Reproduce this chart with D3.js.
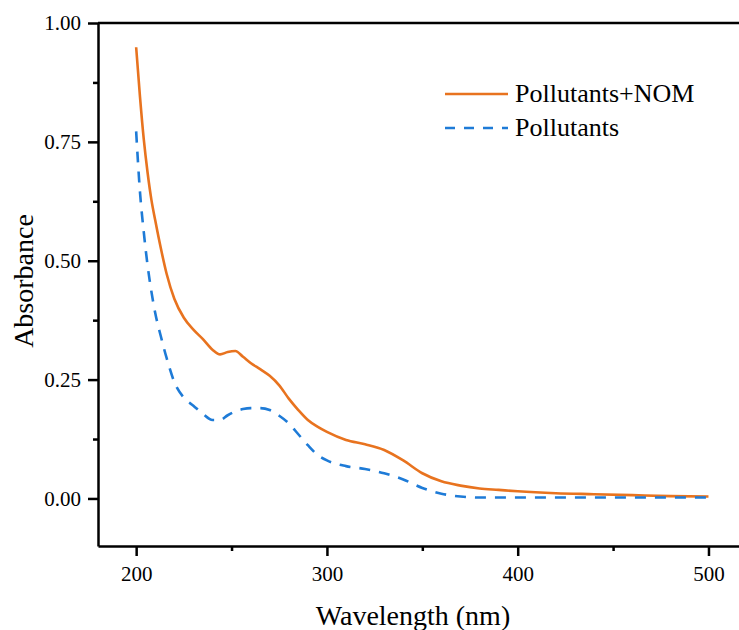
<!DOCTYPE html>
<html>
<head>
<meta charset="utf-8">
<script src="https://cdn.jsdelivr.net/npm/d3@7/dist/d3.min.js"></script>
<style>
  html, body { margin: 0; padding: 0; background: #fff; }
  svg { display: block; }
</style>
</head>
<body>
<script>
// wavelengths (nm) at which the curves were read
const wavelength = [200, 202, 204, 206, 208, 210, 213, 216, 220, 225, 230, 235, 240, 244, 248, 252, 256, 260, 265, 270, 275, 280, 285, 290, 295, 300, 310, 320, 330, 340, 350, 360, 370, 380, 390, 400, 420, 440, 460, 480, 500];
const pollutantsNOM = [0.949, 0.845, 0.755, 0.685, 0.628, 0.585, 0.525, 0.472, 0.42, 0.38, 0.355, 0.335, 0.313, 0.303, 0.308, 0.31, 0.298, 0.285, 0.272, 0.258, 0.238, 0.21, 0.186, 0.165, 0.151, 0.14, 0.123, 0.114, 0.102, 0.08, 0.053, 0.036, 0.027, 0.021, 0.018, 0.015, 0.011, 0.009, 0.007, 0.005, 0.004];
const pollutants = [0.772, 0.645, 0.56, 0.49, 0.435, 0.39, 0.34, 0.295, 0.245, 0.212, 0.195, 0.178, 0.165, 0.165, 0.175, 0.183, 0.188, 0.19, 0.19, 0.186, 0.174, 0.158, 0.135, 0.112, 0.092, 0.08, 0.068, 0.062, 0.053, 0.04, 0.022, 0.01, 0.004, 0.002, 0.002, 0.002, 0.002, 0.002, 0.002, 0.002, 0.002];
const seriesNames = ["Pollutants+NOM", "Pollutants"];
const xTicks = [200, 300, 400, 500];
const xMinorTicks = [250, 350, 450];
const yTicks = [0, 0.25, 0.5, 0.75, 1.0];
const yMinorTicks = [0.125, 0.375, 0.625, 0.875];

const width = 739, height = 630;
const margin = { top: 23, right: 0, bottom: 84, left: 98 };
const colors = ["#E8731F", "#1E7BD7"];
const serif = "Liberation Serif, Times New Roman, serif";

const svg = d3.select("body").append("svg")
  .attr("width", width)
  .attr("height", height)
  .attr("font-family", serif);

const x = d3.scaleLinear().domain([180, 516]).range([margin.left, width - margin.right]);
const y = d3.scaleLinear().domain([-0.1, 1.0]).range([height - margin.bottom, margin.top]);

// minor ticks first, majors on top
svg.append("g")
  .attr("transform", `translate(0,${height - margin.bottom})`)
  .call(d3.axisBottom(x).tickValues(xMinorTicks).tickSize(5).tickSizeOuter(0).tickFormat(""))
  .call(g => g.select(".domain").remove())
  .selectAll("line").attr("stroke", "#000").attr("stroke-width", 2.5);

svg.append("g")
  .attr("transform", `translate(${margin.left},0)`)
  .call(d3.axisLeft(y).tickValues(yMinorTicks).tickSize(5).tickSizeOuter(0).tickFormat(""))
  .call(g => g.select(".domain").remove())
  .selectAll("line").attr("stroke", "#000").attr("stroke-width", 2.5);

const xAxis = svg.append("g")
  .attr("transform", `translate(0,${height - margin.bottom})`)
  .call(d3.axisBottom(x).tickValues(xTicks).tickSize(10).tickSizeOuter(0).tickPadding(10).tickFormat(d3.format("d")));

const yAxis = svg.append("g")
  .attr("transform", `translate(${margin.left},0)`)
  .call(d3.axisLeft(y).tickValues(yTicks).tickSize(10).tickSizeOuter(0).tickPadding(7).tickFormat(d3.format(".2f")));

[xAxis, yAxis].forEach(ax => {
  ax.attr("font-family", serif).attr("font-size", 21);
  ax.select(".domain").attr("stroke", "#000").attr("stroke-width", 2.5);
  ax.selectAll(".tick line").attr("stroke", "#000").attr("stroke-width", 2.5);
  ax.selectAll("text").attr("fill", "#000");
});

// top frame line
svg.append("line")
  .attr("x1", margin.left).attr("x2", width)
  .attr("y1", margin.top).attr("y2", margin.top)
  .attr("stroke", "#000").attr("stroke-width", 2.5);

// curves
const series = [pollutantsNOM, pollutants];
const line = d3.line()
  .x(d => x(d[0]))
  .y(d => y(d[1]))
  .curve(d3.curveMonotoneX);

series.forEach((vals, i) => {
  svg.append("path")
    .datum(wavelength.map((w, j) => [w, vals[j]]))
    .attr("d", line)
    .attr("fill", "none")
    .attr("stroke", colors[i])
    .attr("stroke-width", 2.6)
    .attr("stroke-dasharray", i === 1 ? "11,9" : null);
});

// axis titles
svg.append("text")
  .attr("x", 413)
  .attr("y", 625)
  .attr("text-anchor", "middle")
  .attr("font-size", 28)
  .text("Wavelength (nm)");

svg.append("text")
  .attr("transform", `translate(33,281) rotate(-90)`)
  .attr("text-anchor", "middle")
  .attr("font-size", 28)
  .text("Absorbance");

// legend
const legend = svg.append("g").attr("transform", "translate(445,94)");
seriesNames.forEach((name, i) => {
  const row = legend.append("g").attr("transform", `translate(0,${i * 34})`);
  row.append("line")
    .attr("x1", 0).attr("x2", 63)
    .attr("y1", 0).attr("y2", 0)
    .attr("stroke", colors[i])
    .attr("stroke-width", 2.6)
    .attr("stroke-dasharray", i === 1 ? "10,9" : null);
  row.append("text")
    .attr("x", 70)
    .attr("y", 8)
    .attr("font-size", 26)
    .text(name);
});
</script>
</body>
</html>
